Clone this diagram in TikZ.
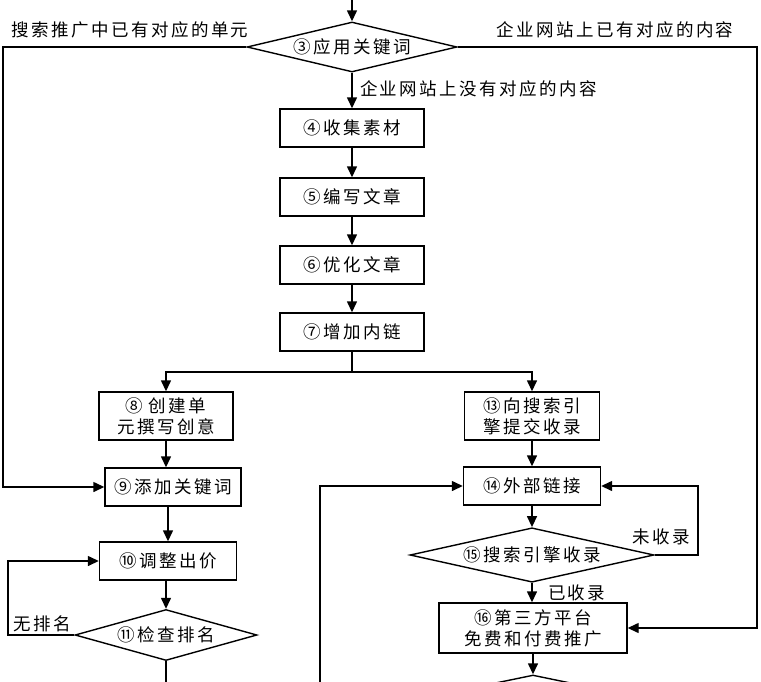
\documentclass[tikz,border=0pt]{standalone}
\usepackage{fontspec}
\setmainfont{Noto Sans CJK SC}[LetterSpace=14]
\usetikzlibrary{shapes.geometric,arrows.meta}
\begin{document}
\begin{tikzpicture}[x=1pt,y=-1pt,
    font=\fontsize{17.5}{21}\selectfont,
    box/.style={draw, line width=1.4pt, minimum height=38pt, inner sep=2pt, align=center},
    decision/.style={draw, line width=1.4pt, diamond, aspect=3.6, inner sep=0pt},
    flow/.style={line width=1.4pt, -{Triangle[length=11pt,width=10pt]}},
    plain/.style={line width=1.4pt}]
        \clip (0,0) rectangle (761,681);
        \useasboundingbox (0,0) rectangle (761,681);
        \coordinate (top) at (352,-5);
        \node (d3) at (352,47) [decision, minimum width=210pt, minimum height=50pt] {③应用关键词};
        \node (b4) at (352,128) [box, minimum width=144pt] {④收集素材};
        \node (b5) at (352,197) [box, minimum width=144pt] {⑤编写文章};
        \node (b6) at (352,265) [box, minimum width=144pt] {⑥优化文章};
        \node (b7) at (352,332) [box, minimum width=144pt] {⑦增加内链};
        \node (b8) at (166,416) [box, text width=130pt, minimum height=48pt] {⑧ 创建单\\元撰写创意};
        \node (b9) at (173,487) [box, minimum width=136pt] {⑨添加关键词};
        \node (b10) at (168,561) [box, minimum width=137pt] {⑩调整出价};
        \node (d11) at (166,635) [decision, minimum width=182pt, minimum height=51pt] {⑪检查排名};
        \node (b13) at (532,416) [box, text width=131pt, minimum height=48pt] {⑬向搜索引\\擎提交收录};
        \node (b14) at (532,486) [box, minimum width=137pt] {⑭外部链接};
        \node (d15) at (532,555) [decision, minimum width=244pt, minimum height=50pt] {⑮搜索引擎收录};
        \node (b16) at (533,628) [box, text width=184pt, minimum height=50pt] {⑯第三方平台\\免费和付费推广};
        \node (d17) at (533,700) [decision, minimum width=240pt, minimum height=50pt] {};
        \coordinate (split) at (352,372);
        \coordinate (low) at (320,690);
        % main column
        \draw[flow] (top) -- (d3.north);
        \draw[flow] (d3.south) -- (b4) node[pos=0.45, right=4pt] {企业网站上没有对应的内容};
        \draw[flow] (b4) -- (b5);
        \draw[flow] (b5) -- (b6);
        \draw[flow] (b6) -- (b7);
        \draw[plain] (b7.south) -- (split);
        \draw[flow] (split) -| (b8.north);
        \draw[flow] (split) -| (b13.north);
        % left branch
        \draw[flow] (d3.west) -- (3,47) |- (b9.west);
        \node (l3) at (130,30) {搜索推广中已有对应的单元};
        \draw[flow] (b8) -- (b8|-b9.north);
        \draw[flow] (b9.south-|b10) -- (b10);
        \draw[flow] (b10.south-|d11) -- (d11.north);
        \draw[flow] (d11.west) -- (8,635) |- (b10.west);
        \node (l11) at (42,624) {无排名};
        \draw[plain] (d11.south) -- (166,690);
        % right branch
        \draw[flow] (d3.east) -- (757,47) |- (b16.east);
        \node (r3) at (615,30) {企业网站上已有对应的内容};
        \draw[flow] (b13) -- (b14);
        \draw[flow] (low) |- (b14.west);
        \draw[flow] (b14) -- (d15.north);
        \draw[flow] (d15.east) -- (698,555) |- (b14.east);
        \node (l15a) at (661,537) {未收录};
        \draw[flow] (d15.south) -- (b16.north-|d15) node[midway, right=12pt] {已收录};
        \draw[flow] (b16) -- (d17.north);
\end{tikzpicture}
\end{document}
